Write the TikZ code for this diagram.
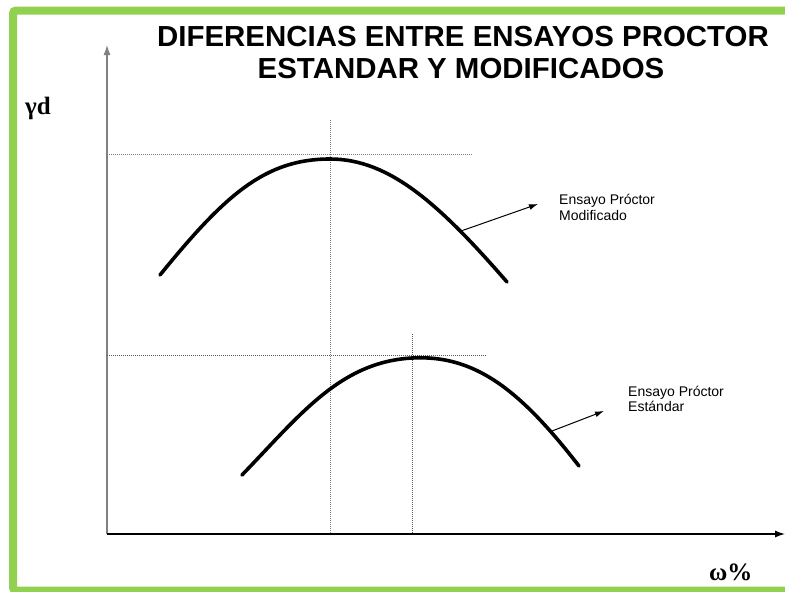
\documentclass[tikz,border=0pt]{standalone}
\usepackage{fontspec}
\setmainfont{Liberation Serif}
\newfontfamily\arial{Liberation Sans}
\usetikzlibrary{arrows, arrows.meta}
\definecolor{marco}{HTML}{92D050}

\begin{document}
\begin{tikzpicture}[>=latex, x=1pt, y=-1pt]
\useasboundingbox (0,0) rectangle (785,592);

\draw[marco, line width=8pt, rounded corners=3pt] (795,10.5) -- (13,10.5) -- (13,590.5) -- (795,590.5); %marco

% ejes
\coordinate (o) at (107,534);
\coordinate (ytop) at (107,45);
\coordinate (xend) at (785,534);
\draw[gray, line width=1.2pt, -{Latex[length=10pt,width=7pt]}] (o) -- (ytop); %eje y
\draw[black, line width=1.2pt, -{Latex[length=10pt,width=7pt]}] (o) -- (xend); %eje x

\node[anchor=base west, inner sep=0, font=\bfseries\fontsize{25}{28}\selectfont] (gd) at (25,114) {γd};
\node[anchor=base west, inner sep=0, font=\bfseries\fontsize{25}{28}\selectfont] (wp) at (709,580) {ω\%};

% titulo
\node[anchor=base, inner sep=0, font=\arial\bfseries\fontsize{29}{32}\selectfont] (titulo1) at (463,46) {\scalebox{1.015}[1]{DIFERENCIAS ENTRE ENSAYOS PROCTOR}};
\node[anchor=base, inner sep=0, font=\arial\bfseries\fontsize{29}{32}\selectfont] (titulo2) at (461,78) {\scalebox{1.015}[1]{ESTANDAR Y MODIFICADOS}};

% lineas punteadas
\coordinate (pm) at (330,159);
\coordinate (ps) at (412,358);
\draw[gray, line width=0.9pt, dash pattern=on 1pt off 1pt] (o |- 0,154) -- (473,154); %ymax modificado
\draw[gray, line width=0.9pt, dash pattern=on 1pt off 1pt] (330,120) -- (o -| 330,0); %wopt modificado
\draw[gray!70!black, line width=0.9pt, dash pattern=on 1pt off 1pt] (o |- 0,355) -- (486,355); %ymax estandar
\draw[gray!70!black, line width=0.9pt, dash pattern=on 1pt off 1pt] (412,334) -- (o -| 412,0); %wopt estandar

% curvas
\draw[line width=3.6pt, line cap=round] (160,275) .. controls (225,195) and (265,159) .. (pm) .. controls (390,159) and (440,205) .. (507,282); %modificado
\draw[line width=3.6pt, line cap=round] (242,475) .. controls (300,415) and (340,362) .. (ps) .. controls (475,354.5) and (520,390) .. (579,466); %estandar

% etiquetas
\node[anchor=base west, inner sep=0, font=\arial\fontsize{14}{16}\selectfont] (mod1) at (559,204) {Ensayo Próctor};
\node[anchor=base west, inner sep=0, font=\arial\fontsize{14}{16}\selectfont] (mod2) at (559,220) {Modificado};
\node[anchor=base west, inner sep=0, font=\arial\fontsize{14}{16}\selectfont] (est1) at (628,396) {Ensayo Próctor};
\node[anchor=base west, inner sep=0, font=\arial\fontsize{14}{16}\selectfont] (est2) at (628,411) {Estándar};

\coordinate (m0) at (461,231);
\coordinate (m1) at (538,204);
\coordinate (s0) at (552,431);
\coordinate (s1) at (604,411);
\draw[line width=1pt, -{Latex[length=9pt,width=6pt]}] (m0) -- (m1);
\draw[line width=1pt, -{Latex[length=9pt,width=6pt]}] (s0) -- (s1);

\end{tikzpicture}
\end{document}
